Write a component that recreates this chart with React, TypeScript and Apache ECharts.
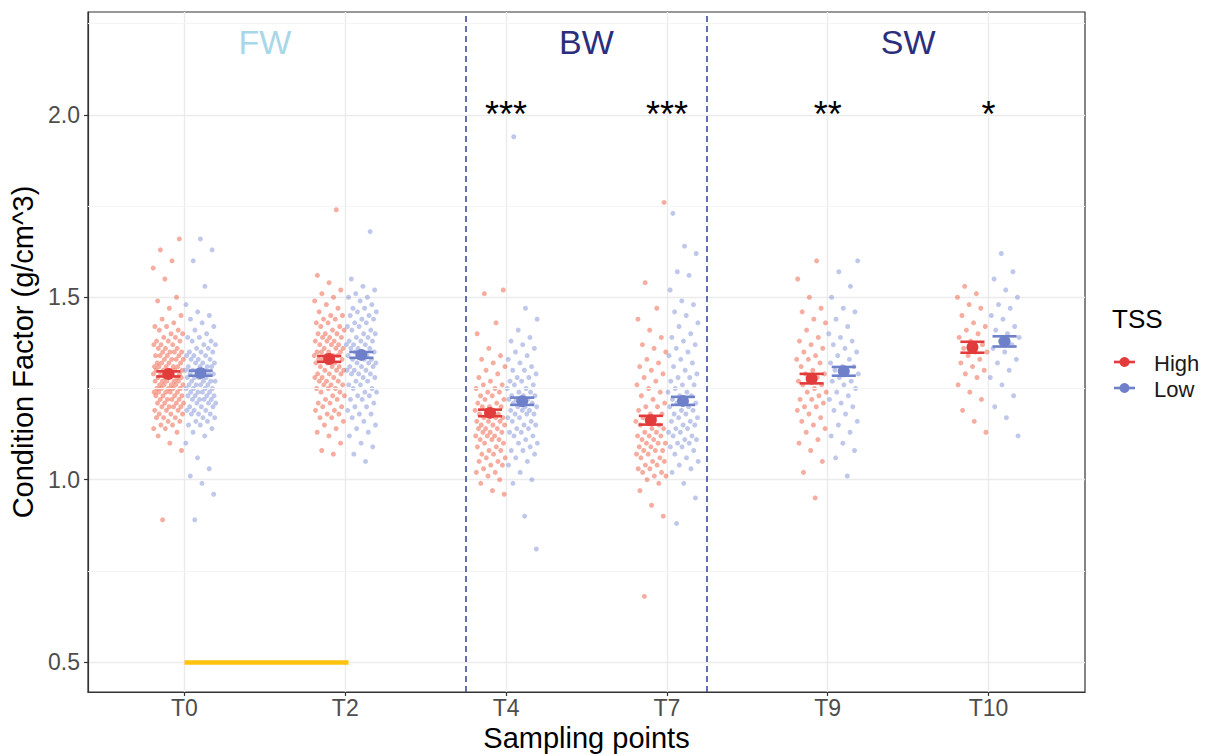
import React, { useEffect, useRef } from 'react';
import * as echarts from 'echarts';

const FONT = '"Liberation Sans", Arial, Helvetica, sans-serif';

const categories = ['T0', 'T2', 'T4', 'T7', 'T9', 'T10'];
const yTicks = [0.5, 1.0, 1.5, 2.0];
const yMinor = [0.75, 1.25, 1.75, 2.25];

const highMeans = [1.290, 1.331, 1.183, 1.163, 1.277, 1.363];
const lowMeans = [1.292, 1.342, 1.215, 1.216, 1.297, 1.379];
const highSE = [0.007, 0.008, 0.009, 0.012, 0.013, 0.015];
const lowSE = [0.007, 0.008, 0.010, 0.011, 0.012, 0.014];

const t0High = [0.89, 1.08, 1.10, 1.12, 1.13, 1.14, 1.14, 1.15, 1.15, 1.16, 1.16, 1.17, 1.17, 1.17, 1.18, 1.18, 1.18, 1.19, 1.19, 1.19, 1.20, 1.20, 1.20, 1.20, 1.21, 1.21, 1.21, 1.21, 1.22, 1.22, 1.22, 1.22, 1.23, 1.23, 1.23, 1.23, 1.24, 1.24, 1.24, 1.24, 1.24, 1.25, 1.25, 1.25, 1.25, 1.25, 1.26, 1.26, 1.26, 1.26, 1.26, 1.27, 1.27, 1.27, 1.27, 1.27, 1.28, 1.28, 1.28, 1.28, 1.28, 1.29, 1.29, 1.29, 1.29, 1.29, 1.30, 1.30, 1.30, 1.30, 1.30, 1.31, 1.31, 1.31, 1.31, 1.31, 1.32, 1.32, 1.32, 1.32, 1.33, 1.33, 1.33, 1.33, 1.34, 1.34, 1.34, 1.34, 1.35, 1.35, 1.35, 1.35, 1.36, 1.36, 1.36, 1.37, 1.37, 1.37, 1.38, 1.38, 1.38, 1.39, 1.39, 1.40, 1.40, 1.41, 1.41, 1.42, 1.42, 1.43, 1.44, 1.45, 1.47, 1.49, 1.50, 1.55, 1.58, 1.60, 1.63, 1.66];
const t0Low = [0.89, 0.96, 0.99, 1.01, 1.03, 1.06, 1.10, 1.12, 1.13, 1.14, 1.15, 1.15, 1.16, 1.16, 1.17, 1.17, 1.18, 1.18, 1.18, 1.19, 1.19, 1.19, 1.20, 1.20, 1.20, 1.21, 1.21, 1.21, 1.22, 1.22, 1.22, 1.22, 1.23, 1.23, 1.23, 1.23, 1.24, 1.24, 1.24, 1.24, 1.25, 1.25, 1.25, 1.25, 1.26, 1.26, 1.26, 1.26, 1.27, 1.27, 1.27, 1.27, 1.28, 1.28, 1.28, 1.28, 1.29, 1.29, 1.29, 1.29, 1.30, 1.30, 1.30, 1.30, 1.31, 1.31, 1.31, 1.31, 1.32, 1.32, 1.32, 1.33, 1.33, 1.33, 1.34, 1.34, 1.34, 1.35, 1.35, 1.35, 1.36, 1.36, 1.37, 1.37, 1.38, 1.38, 1.39, 1.39, 1.40, 1.41, 1.42, 1.43, 1.44, 1.45, 1.46, 1.48, 1.53, 1.60, 1.63, 1.66];
const t2High = [1.07, 1.08, 1.10, 1.12, 1.13, 1.14, 1.15, 1.16, 1.17, 1.17, 1.18, 1.18, 1.19, 1.19, 1.20, 1.20, 1.21, 1.21, 1.22, 1.22, 1.23, 1.23, 1.24, 1.24, 1.25, 1.25, 1.25, 1.26, 1.26, 1.26, 1.27, 1.27, 1.27, 1.28, 1.28, 1.28, 1.29, 1.29, 1.29, 1.30, 1.30, 1.30, 1.31, 1.31, 1.31, 1.32, 1.32, 1.32, 1.33, 1.33, 1.33, 1.33, 1.34, 1.34, 1.34, 1.34, 1.35, 1.35, 1.35, 1.35, 1.36, 1.36, 1.36, 1.37, 1.37, 1.37, 1.38, 1.38, 1.38, 1.39, 1.39, 1.39, 1.40, 1.40, 1.40, 1.41, 1.41, 1.42, 1.42, 1.43, 1.43, 1.44, 1.44, 1.45, 1.45, 1.46, 1.47, 1.48, 1.49, 1.50, 1.51, 1.52, 1.54, 1.56, 1.74];
const t2Low = [1.05, 1.07, 1.09, 1.10, 1.12, 1.13, 1.14, 1.15, 1.16, 1.17, 1.18, 1.18, 1.19, 1.20, 1.20, 1.21, 1.22, 1.22, 1.23, 1.23, 1.24, 1.24, 1.25, 1.25, 1.26, 1.26, 1.27, 1.27, 1.28, 1.28, 1.29, 1.29, 1.29, 1.30, 1.30, 1.30, 1.31, 1.31, 1.31, 1.32, 1.32, 1.32, 1.33, 1.33, 1.33, 1.34, 1.34, 1.34, 1.35, 1.35, 1.35, 1.36, 1.36, 1.36, 1.37, 1.37, 1.37, 1.38, 1.38, 1.38, 1.39, 1.39, 1.40, 1.40, 1.41, 1.41, 1.42, 1.42, 1.43, 1.43, 1.44, 1.44, 1.45, 1.45, 1.46, 1.46, 1.47, 1.47, 1.48, 1.49, 1.50, 1.50, 1.51, 1.52, 1.53, 1.55, 1.68];
const t4High = [0.96, 0.97, 0.99, 1.00, 1.01, 1.02, 1.02, 1.03, 1.04, 1.04, 1.05, 1.05, 1.06, 1.06, 1.07, 1.07, 1.08, 1.08, 1.09, 1.09, 1.10, 1.10, 1.11, 1.11, 1.11, 1.12, 1.12, 1.12, 1.13, 1.13, 1.13, 1.14, 1.14, 1.14, 1.15, 1.15, 1.15, 1.16, 1.16, 1.16, 1.17, 1.17, 1.17, 1.18, 1.18, 1.18, 1.19, 1.19, 1.19, 1.20, 1.20, 1.20, 1.21, 1.21, 1.22, 1.22, 1.23, 1.23, 1.24, 1.24, 1.25, 1.25, 1.26, 1.26, 1.27, 1.28, 1.29, 1.30, 1.31, 1.32, 1.33, 1.34, 1.36, 1.40, 1.43, 1.51, 1.52];
const t4Low = [0.81, 0.90, 0.99, 1.00, 1.02, 1.04, 1.05, 1.06, 1.07, 1.08, 1.08, 1.09, 1.10, 1.10, 1.11, 1.12, 1.12, 1.13, 1.13, 1.14, 1.14, 1.15, 1.15, 1.16, 1.16, 1.17, 1.17, 1.18, 1.18, 1.18, 1.19, 1.19, 1.19, 1.20, 1.20, 1.20, 1.21, 1.21, 1.21, 1.22, 1.22, 1.22, 1.23, 1.23, 1.23, 1.24, 1.24, 1.25, 1.25, 1.26, 1.26, 1.27, 1.27, 1.28, 1.28, 1.29, 1.30, 1.30, 1.31, 1.32, 1.33, 1.34, 1.35, 1.36, 1.37, 1.38, 1.39, 1.41, 1.44, 1.47, 1.94];
const t7High = [0.68, 0.90, 0.93, 0.97, 0.99, 1.00, 1.01, 1.01, 1.02, 1.02, 1.03, 1.03, 1.04, 1.04, 1.05, 1.05, 1.06, 1.06, 1.07, 1.07, 1.08, 1.08, 1.08, 1.09, 1.09, 1.10, 1.10, 1.10, 1.11, 1.11, 1.12, 1.12, 1.12, 1.13, 1.13, 1.14, 1.14, 1.15, 1.15, 1.16, 1.16, 1.17, 1.17, 1.18, 1.18, 1.19, 1.20, 1.20, 1.21, 1.22, 1.23, 1.24, 1.25, 1.26, 1.27, 1.28, 1.29, 1.30, 1.31, 1.32, 1.33, 1.35, 1.36, 1.37, 1.39, 1.41, 1.44, 1.47, 1.54, 1.76];
const t7Low = [0.88, 0.95, 0.99, 1.02, 1.03, 1.04, 1.05, 1.06, 1.07, 1.08, 1.09, 1.09, 1.10, 1.10, 1.11, 1.11, 1.12, 1.12, 1.13, 1.13, 1.14, 1.14, 1.15, 1.15, 1.16, 1.16, 1.17, 1.17, 1.18, 1.18, 1.19, 1.19, 1.20, 1.20, 1.21, 1.21, 1.22, 1.22, 1.23, 1.23, 1.24, 1.24, 1.25, 1.26, 1.26, 1.27, 1.28, 1.28, 1.29, 1.30, 1.31, 1.32, 1.33, 1.34, 1.35, 1.36, 1.37, 1.38, 1.39, 1.40, 1.42, 1.43, 1.45, 1.46, 1.48, 1.49, 1.52, 1.56, 1.57, 1.62, 1.64, 1.73];
const t9High = [0.95, 1.02, 1.05, 1.08, 1.10, 1.11, 1.13, 1.14, 1.15, 1.16, 1.17, 1.18, 1.19, 1.20, 1.20, 1.21, 1.22, 1.22, 1.23, 1.24, 1.24, 1.25, 1.26, 1.26, 1.27, 1.27, 1.28, 1.29, 1.29, 1.30, 1.31, 1.32, 1.33, 1.33, 1.34, 1.35, 1.36, 1.37, 1.38, 1.39, 1.41, 1.43, 1.44, 1.46, 1.47, 1.50, 1.55, 1.60];
const t9Low = [1.01, 1.06, 1.08, 1.10, 1.12, 1.13, 1.15, 1.16, 1.18, 1.19, 1.20, 1.21, 1.22, 1.23, 1.24, 1.25, 1.26, 1.27, 1.27, 1.28, 1.29, 1.29, 1.30, 1.31, 1.31, 1.32, 1.33, 1.34, 1.35, 1.36, 1.37, 1.38, 1.39, 1.40, 1.42, 1.44, 1.46, 1.47, 1.50, 1.53, 1.57, 1.60];
const t10High = [1.13, 1.16, 1.19, 1.22, 1.24, 1.26, 1.28, 1.29, 1.30, 1.31, 1.32, 1.33, 1.34, 1.35, 1.35, 1.36, 1.37, 1.38, 1.39, 1.40, 1.41, 1.42, 1.43, 1.45, 1.47, 1.48, 1.50, 1.51, 1.53];
const t10Low = [1.12, 1.17, 1.20, 1.23, 1.26, 1.28, 1.30, 1.32, 1.33, 1.35, 1.36, 1.37, 1.38, 1.39, 1.40, 1.41, 1.42, 1.44, 1.45, 1.47, 1.48, 1.50, 1.52, 1.55, 1.57, 1.62];

const highPoints = [t0High, t2High, t4High, t7High, t9High, t10High];
const lowPoints = [t0Low, t2Low, t4Low, t7Low, t9Low, t10Low];

const zoneLabels = ['FW', 'BW', 'SW'];
const zoneCenters = [0.5, 2.5, 4.5];
const zoneBoundaries = [1.75, 3.25];
const sigLabels = ['', '', '***', '***', '**', '*'];
const barLine = [0, 1]; // yellow bar spans T0..T2 at 0.5

const RED = '#E23B3B';
const BLUE = '#6E80C9';
const RED_PT = '#EE5A3E';
const BLUE_PT = '#7F91D5';

// layout-only jitter (low-discrepancy spread inside a dodge slot)
const jitter = (k: number) => ((k * 0.6180339887 + 0.31) % 1) - 0.5;

function buildPoints(groups: number[][], shift: number) {
  const out: number[][] = [];
  groups.forEach((vals, ci) => {
    vals.forEach((v, k) => {
      out.push([ci + shift + jitter(k + ci * 7) * 0.19, v]);
    });
  });
  return out;
}

export default function App() {
  const ref = useRef<HTMLDivElement>(null);
  useEffect(() => {
    const chart = echarts.init(ref.current!, null, { renderer: 'svg' });

    const errRender = (color: string) => (params: any, api: any) => {
      const x = api.value(0);
      const lo = api.value(1);
      const hi = api.value(2);
      const p1 = api.coord([x, lo]);
      const p2 = api.coord([x, hi]);
      const hw = api.size([0.075, 0])[0];
      const st = { stroke: color, lineWidth: 2.6 };
      return {
        type: 'group',
        children: [
          { type: 'line', shape: { x1: p1[0], y1: p1[1], x2: p2[0], y2: p2[1] }, style: st },
          { type: 'line', shape: { x1: p1[0] - hw, y1: p1[1], x2: p1[0] + hw, y2: p1[1] }, style: st },
          { type: 'line', shape: { x1: p2[0] - hw, y1: p2[1], x2: p2[0] + hw, y2: p2[1] }, style: st },
        ],
      };
    };

    const option: any = {
      animation: false,
      backgroundColor: '#ffffff',
      textStyle: { fontFamily: FONT },
      grid: {
        left: 88,
        top: 12,
        right: 124,
        bottom: 62,
        show: true,
        containLabel: false,
        outerBoundsMode: 'none',
        borderColor: '#333333',
        borderWidth: 1.2,
        backgroundColor: '#ffffff',
      },
      xAxis: {
        type: 'value',
        min: -0.6,
        max: 5.6,
        name: 'Sampling points',
        nameLocation: 'middle',
        nameGap: 29,
        nameTextStyle: { fontSize: 29, color: '#000', fontFamily: FONT },
        axisLine: { show: true, onZero: false, lineStyle: { color: '#333333', width: 1.2 } },
        axisTick: { show: true, length: 4, customValues: [0, 1, 2, 3, 4, 5], lineStyle: { color: '#333333', width: 1.2 } },
        axisLabel: {
          customValues: [0, 1, 2, 3, 4, 5],
          formatter: (v: number) => categories[Math.round(v)] ?? '',
          fontSize: 23,
          color: '#4D4D4D',
          margin: 4,
          fontFamily: FONT,
        },
        splitLine: { show: true, lineStyle: { color: '#EBEBEB', width: 1.4 } },
      },
      yAxis: {
        type: 'value',
        min: 0.418,
        max: 2.282,
        name: 'Condition Factor (g/cm^3)',
        nameLocation: 'middle',
        nameGap: 42,
        nameTextStyle: { fontSize: 29, color: '#000', fontFamily: FONT },
        axisLine: { show: true, onZero: false, lineStyle: { color: '#333333', width: 1.2 } },
        axisTick: { show: true, length: 4, customValues: yTicks, lineStyle: { color: '#333333', width: 1.2 } },
        axisLabel: {
          customValues: yTicks,
          formatter: (v: number) => v.toFixed(1),
          fontSize: 23,
          color: '#4D4D4D',
          margin: 8,
          fontFamily: FONT,
        },
        splitLine: { show: true, lineStyle: { color: '#EBEBEB', width: 1.4 } },
      },
      series: [
        {
          type: 'scatter',
          name: 'minorGrid',
          data: [],
          silent: true,
          z: 0,
          markLine: {
            silent: true,
            symbol: 'none',
            label: { show: false },
            lineStyle: { color: '#F4F4F4', width: 1, type: 'solid' },
            data: yMinor.map((v) => ({ yAxis: v })),
          },
        },
        {
          type: 'scatter',
          name: 'High points',
          data: buildPoints(highPoints, -0.1),
          symbolSize: 5,
          itemStyle: { color: RED_PT, opacity: 0.5 },
          silent: true,
          z: 2,
        },
        {
          type: 'scatter',
          name: 'Low points',
          data: buildPoints(lowPoints, 0.1),
          symbolSize: 5,
          itemStyle: { color: BLUE_PT, opacity: 0.5 },
          silent: true,
          z: 2,
        },
        {
          type: 'custom',
          name: 'High SE',
          renderItem: errRender(RED),
          data: highMeans.map((m, i) => [i - 0.1, m - highSE[i], m + highSE[i]]),
          z: 3,
          silent: true,
        },
        {
          type: 'custom',
          name: 'Low SE',
          renderItem: errRender(BLUE),
          data: lowMeans.map((m, i) => [i + 0.1, m - lowSE[i], m + lowSE[i]]),
          z: 3,
          silent: true,
        },
        {
          type: 'scatter',
          name: 'High',
          data: highMeans.map((m, i) => [i - 0.1, m]),
          symbolSize: 12,
          itemStyle: { color: RED, opacity: 1 },
          z: 4,
          silent: true,
        },
        {
          type: 'scatter',
          name: 'Low',
          data: lowMeans.map((m, i) => [i + 0.1, m]),
          symbolSize: 12,
          itemStyle: { color: BLUE, opacity: 1 },
          z: 4,
          silent: true,
        },
        {
          type: 'scatter',
          name: 'refLines',
          data: [],
          silent: true,
          z: 5,
          markLine: {
            silent: true,
            symbol: 'none',
            label: { show: false },
            data: [
              ...zoneBoundaries.map((b) => ({
                xAxis: b,
                lineStyle: { color: '#3D4C9C', width: 1.6, type: [6, 4] },
              })),
              [
                { coord: [barLine[0], 0.5], lineStyle: { color: '#FFC20E', width: 4.5, type: 'solid' } },
                { coord: [barLine[1] + 0.02, 0.5] },
              ],
            ],
          },
        },
        {
          type: 'scatter',
          name: 'zones',
          data: zoneLabels.map((t, i) => ({
            value: [zoneCenters[i], 2.2, t],
            label: { color: i === 0 ? '#A8D8E8' : '#2A2E7C' },
          })),
          symbolSize: 0,
          itemStyle: { color: 'rgba(0,0,0,0)', opacity: 1 },
          silent: true,
          z: 6,
          label: {
            show: true,
            position: 'inside',
            formatter: (p: any) => p.value[2],
            fontSize: 34,
            fontFamily: FONT,
            opacity: 1,
            textBorderWidth: 0,
          },
        },
        {
          type: 'scatter',
          name: 'sig',
          data: sigLabels
            .map((s, i) => [i, 2.0, s])
            .filter((d) => d[2] !== ''),
          symbolSize: 0,
          itemStyle: { color: 'rgba(0,0,0,0)', opacity: 1 },
          silent: true,
          z: 6,
          label: {
            show: true,
            position: 'inside',
            formatter: (p: any) => p.data[2],
            fontSize: 36,
            fontFamily: FONT,
            color: '#000000',
            opacity: 1,
            textBorderWidth: 0,
          },
        },
      ],
      graphic: [
        {
          type: 'text',
          x: 1112,
          y: 319,
          style: { text: 'TSS', fontSize: 26, fontFamily: FONT, fill: '#000', verticalAlign: 'middle' },
        },
        { type: 'line', shape: { x1: 1114, y1: 362, x2: 1135, y2: 362 }, style: { stroke: RED, lineWidth: 2.6 } },
        { type: 'circle', shape: { cx: 1124.5, cy: 362, r: 5 }, style: { fill: RED } },
        {
          type: 'text',
          x: 1154,
          y: 363,
          style: { text: 'High', fontSize: 22, fontFamily: FONT, fill: '#1A1A1A', verticalAlign: 'middle' },
        },
        { type: 'line', shape: { x1: 1114, y1: 388, x2: 1135, y2: 388 }, style: { stroke: BLUE, lineWidth: 2.6 } },
        { type: 'circle', shape: { cx: 1124.5, cy: 388, r: 5 }, style: { fill: BLUE } },
        {
          type: 'text',
          x: 1154,
          y: 389,
          style: { text: 'Low', fontSize: 22, fontFamily: FONT, fill: '#1A1A1A', verticalAlign: 'middle' },
        },
      ],
    };

    chart.setOption(option);
    return () => chart.dispose();
  }, []);

  return (
    <div
      ref={ref}
      style={{ position: 'fixed', left: 0, top: 0, width: 1209, height: 754, background: '#ffffff' }}
    />
  );
}
